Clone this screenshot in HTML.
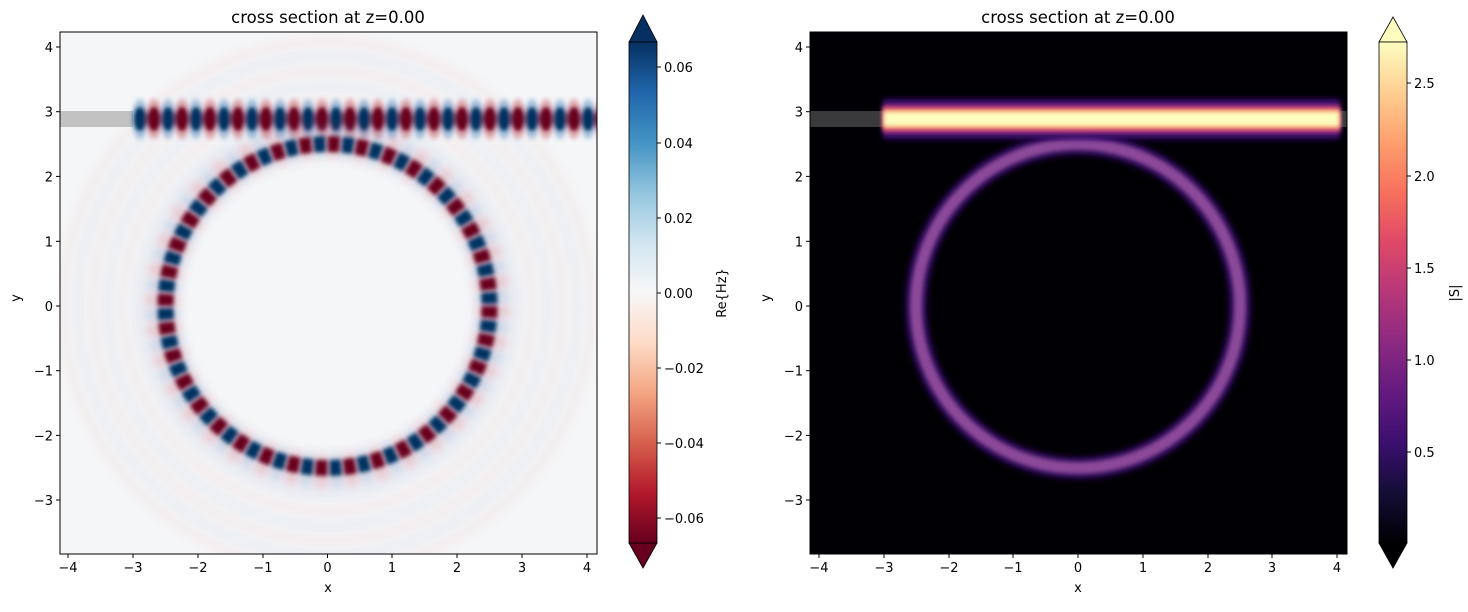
<!DOCTYPE html>
<html><head><meta charset="utf-8"><style>
html,body{margin:0;padding:0;background:#fff;}
svg text{font-family:"DejaVu Sans","Liberation Sans",sans-serif;font-size:13px;fill:#000;}
svg text.t{font-size:16.5px;}
</style></head><body>
<svg width="1468" height="607" viewBox="0 0 1468 607" xmlns="http://www.w3.org/2000/svg">
<defs>
<clipPath id="cl"><rect x="60" y="32" width="537" height="522"/></clipPath>
<clipPath id="cr"><rect x="810" y="32" width="537" height="522"/></clipPath>
<filter id="b2" x="-20%" y="-20%" width="140%" height="140%"><feGaussianBlur stdDeviation="2"/></filter>
<filter id="b3" x="-20%" y="-50%" width="140%" height="200%"><feGaussianBlur stdDeviation="3"/></filter>
<filter id="b5" x="-20%" y="-20%" width="140%" height="140%"><feGaussianBlur stdDeviation="5"/></filter>
<pattern id="wg" x="133" y="0" width="28" height="607" patternUnits="userSpaceOnUse">
 <ellipse cx="7" cy="119" rx="8" ry="20" fill="#2166ac" opacity="0.35"/>
 <ellipse cx="21" cy="119" rx="8" ry="20" fill="#b2182b" opacity="0.35"/>
 <ellipse cx="7" cy="119" rx="6.5" ry="12" fill="#053061"/>
 <ellipse cx="21" cy="119" rx="6.5" ry="12" fill="#67001f"/>
</pattern>
<linearGradient id="rdbu" x1="0" y1="1" x2="0" y2="0">
<stop offset="0" stop-color="#67001f"/><stop offset="0.1" stop-color="#b2182b"/><stop offset="0.2" stop-color="#d6604d"/><stop offset="0.3" stop-color="#f4a582"/><stop offset="0.4" stop-color="#fddbc7"/><stop offset="0.5" stop-color="#f7f7f7"/><stop offset="0.6" stop-color="#d1e5f0"/><stop offset="0.7" stop-color="#92c5de"/><stop offset="0.8" stop-color="#4393c3"/><stop offset="0.9" stop-color="#2166ac"/><stop offset="1" stop-color="#053061"/>
</linearGradient>
<linearGradient id="magma" x1="0" y1="1" x2="0" y2="0">
<stop offset="0" stop-color="#000004"/><stop offset="0.1" stop-color="#140e36"/><stop offset="0.2" stop-color="#3b0f70"/><stop offset="0.3" stop-color="#641a80"/><stop offset="0.4" stop-color="#8c2981"/><stop offset="0.5" stop-color="#b73779"/><stop offset="0.6" stop-color="#de4968"/><stop offset="0.7" stop-color="#f7705c"/><stop offset="0.8" stop-color="#fe9f6d"/><stop offset="0.9" stop-color="#fecf92"/><stop offset="1" stop-color="#fcfdbf"/>
</linearGradient>
</defs>

<!-- LEFT PLOT -->
<g clip-path="url(#cl)">
 <rect x="60" y="32" width="537" height="522" fill="#f5f6f8"/>
 <g fill="none" stroke-width="10" opacity="0.06" filter="url(#b5)">
  <circle cx="327.5" cy="306" r="190" stroke="#2166ac"/>
  <circle cx="327.5" cy="306" r="205" stroke="#d6604d"/>
  <circle cx="327.5" cy="306" r="220" stroke="#2166ac"/>
  <circle cx="327.5" cy="306" r="235" stroke="#d6604d"/>
  <circle cx="327.5" cy="306" r="250" stroke="#2166ac"/>
  <circle cx="327.5" cy="306" r="265" stroke="#d6604d"/>
 </g>
 <rect x="60" y="111" width="73" height="16" fill="#c2c2c2"/>
 <rect x="133" y="86" width="470" height="68" fill="url(#wg)" filter="url(#b2)"/>
 <g fill="none" stroke-width="34" opacity="0.25" filter="url(#b5)">
  <circle cx="327.5" cy="306" r="165" stroke="#b2182b" stroke-dasharray="11.2 17.6"/>
  <circle cx="327.5" cy="306" r="165" stroke="#2166ac" stroke-dasharray="11.2 17.6" stroke-dashoffset="14.4"/>
 </g>
 <g fill="none" stroke-width="16" filter="url(#b2)">
  <circle cx="327.5" cy="306" r="162" stroke="#67001f" stroke-dasharray="12 16.27"/>
  <circle cx="327.5" cy="306" r="162" stroke="#053061" stroke-dasharray="12 16.27" stroke-dashoffset="14.13"/>
 </g>
</g>
<rect x="60" y="32" width="537" height="522" fill="none" stroke="#000" stroke-width="1"/>
<text class="t" x="328" y="23" text-anchor="middle">cross section at z=0.00</text>
<g stroke="#000">
 <line x1="68" y1="554" x2="68" y2="558"/><line x1="133" y1="554" x2="133" y2="558"/><line x1="198" y1="554" x2="198" y2="558"/><line x1="263" y1="554" x2="263" y2="558"/><line x1="327.5" y1="554" x2="327.5" y2="558"/><line x1="392" y1="554" x2="392" y2="558"/><line x1="457" y1="554" x2="457" y2="558"/><line x1="522" y1="554" x2="522" y2="558"/><line x1="587" y1="554" x2="587" y2="558"/>
 <line x1="56" y1="47" x2="60" y2="47"/><line x1="56" y1="111.7" x2="60" y2="111.7"/><line x1="56" y1="176.4" x2="60" y2="176.4"/><line x1="56" y1="241.3" x2="60" y2="241.3"/><line x1="56" y1="306" x2="60" y2="306"/><line x1="56" y1="370.7" x2="60" y2="370.7"/><line x1="56" y1="435.4" x2="60" y2="435.4"/><line x1="56" y1="500" x2="60" y2="500"/>
</g>
<g text-anchor="middle">
 <text x="68" y="572">−4</text><text x="133" y="572">−3</text><text x="198" y="572">−2</text><text x="263" y="572">−1</text><text x="327.5" y="572">0</text><text x="392" y="572">1</text><text x="457" y="572">2</text><text x="522" y="572">3</text><text x="587" y="572">4</text>
</g>
<text x="328" y="592" text-anchor="middle">x</text>
<g text-anchor="end">
 <text x="53" y="52">4</text><text x="53" y="116.7">3</text><text x="53" y="181.4">2</text><text x="53" y="246.3">1</text><text x="53" y="311">0</text><text x="53" y="375.7">−1</text><text x="53" y="440.4">−2</text><text x="53" y="505">−3</text>
</g>
<text transform="translate(20,298) rotate(-90)" text-anchor="middle">y</text>

<!-- left colorbar -->
<path d="M629,42 L643,15 L657,42 Z" fill="#053061" stroke="#000" stroke-width="0.8"/>
<path d="M629,543 L643,568 L657,543 Z" fill="#67001f" stroke="#000" stroke-width="0.8"/>
<rect x="629" y="42" width="28" height="501" fill="url(#rdbu)" stroke="#000" stroke-width="0.8"/>
<g stroke="#000"><line x1="657" y1="67" x2="661" y2="67"/><line x1="657" y1="143" x2="661" y2="143"/><line x1="657" y1="218" x2="661" y2="218"/><line x1="657" y1="293" x2="661" y2="293"/><line x1="657" y1="368" x2="661" y2="368"/><line x1="657" y1="443" x2="661" y2="443"/><line x1="657" y1="518" x2="661" y2="518"/></g>
<g><text x="664" y="72">0.06</text><text x="664" y="148">0.04</text><text x="664" y="223">0.02</text><text x="664" y="298">0.00</text><text x="664" y="373">−0.02</text><text x="664" y="448">−0.04</text><text x="664" y="523">−0.06</text></g>
<text transform="translate(726,293) rotate(-90)" text-anchor="middle">Re{Hz}</text>

<!-- RIGHT PLOT -->
<g clip-path="url(#cr)">
 <rect x="810" y="32" width="537" height="522" fill="#000004"/>
 <rect x="810" y="111" width="75" height="16" fill="#3a3a3c"/>
 <rect x="1330" y="111" width="20" height="16" fill="#3a3a3c"/>
 <circle cx="1078" cy="306" r="162" fill="none" stroke="#3b0f70" stroke-width="22" filter="url(#b3)" opacity="0.8"/>
 <circle cx="1078" cy="306" r="162" fill="none" stroke="#8c4a9a" stroke-width="12" filter="url(#b2)"/>
 <rect x="883" y="99" width="457" height="40" fill="#3b0f70" filter="url(#b3)"/>
 <rect x="883" y="105" width="457" height="28" fill="#b73779" filter="url(#b2)"/>
 <rect x="883" y="109" width="457" height="20" fill="#fe9f6d" filter="url(#b2)"/>
 <rect x="884" y="112" width="455" height="14" fill="#fcfdbf" filter="url(#b2)"/>
</g>
<rect x="810" y="32" width="537" height="522" fill="none" stroke="#000" stroke-width="1"/>
<text class="t" x="1078" y="23" text-anchor="middle">cross section at z=0.00</text>
<g stroke="#000">
 <line x1="819" y1="554" x2="819" y2="558"/><line x1="884" y1="554" x2="884" y2="558"/><line x1="949" y1="554" x2="949" y2="558"/><line x1="1013" y1="554" x2="1013" y2="558"/><line x1="1078" y1="554" x2="1078" y2="558"/><line x1="1143" y1="554" x2="1143" y2="558"/><line x1="1208" y1="554" x2="1208" y2="558"/><line x1="1272" y1="554" x2="1272" y2="558"/><line x1="1337" y1="554" x2="1337" y2="558"/>
 <line x1="806" y1="47" x2="810" y2="47"/><line x1="806" y1="111.7" x2="810" y2="111.7"/><line x1="806" y1="176.4" x2="810" y2="176.4"/><line x1="806" y1="241.3" x2="810" y2="241.3"/><line x1="806" y1="306" x2="810" y2="306"/><line x1="806" y1="370.7" x2="810" y2="370.7"/><line x1="806" y1="435.4" x2="810" y2="435.4"/><line x1="806" y1="500" x2="810" y2="500"/>
</g>
<g text-anchor="middle">
 <text x="819" y="572">−4</text><text x="884" y="572">−3</text><text x="949" y="572">−2</text><text x="1013" y="572">−1</text><text x="1078" y="572">0</text><text x="1143" y="572">1</text><text x="1208" y="572">2</text><text x="1272" y="572">3</text><text x="1337" y="572">4</text>
</g>
<text x="1078" y="592" text-anchor="middle">x</text>
<g text-anchor="end">
 <text x="803" y="52">4</text><text x="803" y="116.7">3</text><text x="803" y="181.4">2</text><text x="803" y="246.3">1</text><text x="803" y="311">0</text><text x="803" y="375.7">−1</text><text x="803" y="440.4">−2</text><text x="803" y="505">−3</text>
</g>
<text transform="translate(770,298) rotate(-90)" text-anchor="middle">y</text>

<!-- right colorbar -->
<path d="M1379,42 L1393,17 L1407,42 Z" fill="#fcfdbf" stroke="#000" stroke-width="0.8"/>
<path d="M1379,543 L1393,568 L1407,543 Z" fill="#000004" stroke="#000" stroke-width="0.8"/>
<rect x="1379" y="42" width="28" height="501" fill="url(#magma)" stroke="#000" stroke-width="0.8"/>
<g stroke="#000"><line x1="1407" y1="83" x2="1411" y2="83"/><line x1="1407" y1="176" x2="1411" y2="176"/><line x1="1407" y1="268" x2="1411" y2="268"/><line x1="1407" y1="360" x2="1411" y2="360"/><line x1="1407" y1="452" x2="1411" y2="452"/></g>
<g><text x="1414" y="88">2.5</text><text x="1414" y="181">2.0</text><text x="1414" y="273">1.5</text><text x="1414" y="365">1.0</text><text x="1414" y="457">0.5</text></g>
<text transform="translate(1459,293) rotate(-90)" text-anchor="middle">|S|</text>
</svg>
</body></html>
